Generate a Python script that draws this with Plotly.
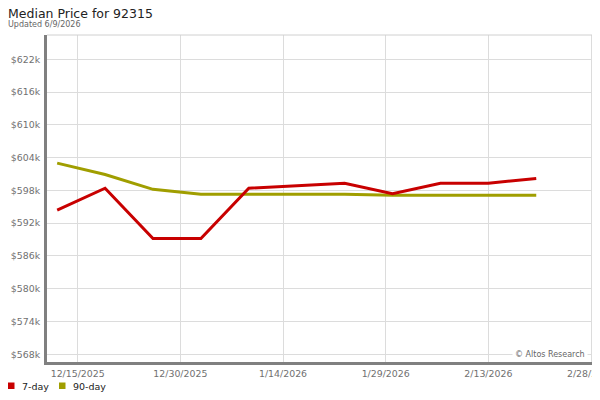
import plotly.graph_objects as go

dates = ["2025-12-12", "2025-12-19", "2025-12-26", "2026-01-02", "2026-01-09",
         "2026-01-16", "2026-01-23", "2026-01-30", "2026-02-06", "2026-02-13",
         "2026-02-20"]
price_7day = [594400, 598400, 589200, 589200, 598400, 598800, 599300, 597400,
              599300, 599300, 600200]
price_90day = [603000, 600900, 598200, 597300, 597300, 597300, 597300, 597100,
               597100, 597100, 597100]

x_tick_dates = ["2025-12-15", "2025-12-30", "2026-01-14", "2026-01-29",
                "2026-02-13", "2026-02-28"]
x_tick_labels = ["12/15/2025", "12/30/2025", "1/14/2026", "1/29/2026",
                 "2/13/2026", "2/28/2026"]
y_tick_vals = [568000, 574000, 580000, 586000, 592000, 598000, 604000,
               610000, 616000, 622000]
y_tick_labels = ["$568k", "$574k", "$580k", "$586k", "$592k", "$598k",
                 "$604k", "$610k", "$616k", "$622k"]

series_names = ["7-day", "90-day"]
RED = "#c80000"
OLIVE = "#a09e00"
FONT = "DejaVu Sans"

# page has an 8px body margin; work in page pixels and convert
OFF = 8
FW, FH = 600 - OFF, 400 - 2 * OFF
L, R, T, B = 47 - OFF, 593 - OFF, 35 - OFF, 362 - OFF
W, H = R - L, B - T


def px(xp):
    return (xp - OFF - L) / W


def py(yp):
    return (B - (yp - OFF)) / H


fig = go.Figure()
fig.add_trace(go.Scatter(x=dates, y=price_90day, mode="lines", name=series_names[1],
                         line=dict(color=OLIVE, width=3), showlegend=False))
fig.add_trace(go.Scatter(x=dates, y=price_7day, mode="lines", name=series_names[0],
                         line=dict(color=RED, width=3), showlegend=False))

fig.update_layout(
    width=FW, height=FH,
    margin=dict(l=L, r=FW - R, t=T, b=FH - B, pad=0, autoexpand=False),
    paper_bgcolor="white", plot_bgcolor="white",
    font=dict(family=FONT, size=9.4, color="#707070"),
    showlegend=False,
    xaxis=dict(
        type="date", automargin=False, ticklabeloverflow="allow",
        range=["2025-12-10 12:20", "2026-02-28 07:00"],
        tickvals=x_tick_dates, ticktext=x_tick_labels,
        showgrid=True, gridcolor="#dcdcdc", gridwidth=1,
        showline=True, linecolor="#808080", linewidth=3,
        ticks="outside", ticklen=1, tickcolor="rgba(0,0,0,0)", zeroline=False,
        tickfont=dict(family=FONT, size=9.4, color="#707070"),
    ),
    yaxis=dict(
        automargin=False,
        range=[566590, 626450],
        tickvals=y_tick_vals, ticktext=y_tick_labels,
        showgrid=True, gridcolor="#dcdcdc", gridwidth=1,
        showline=True, linecolor="#808080", linewidth=3,
        ticks="outside", ticklen=2, tickcolor="rgba(0,0,0,0)",
        zeroline=False,
        tickfont=dict(family=FONT, size=9.4, color="#707070"),
    ),
)

# light border on top and right
fig.add_shape(type="line", xref="paper", yref="paper", x0=0, x1=1, y0=1, y1=1,
              line=dict(color="#d0d0d0", width=1))
fig.add_shape(type="line", xref="paper", yref="paper", x0=1, x1=1, y0=0, y1=1,
              line=dict(color="#d0d0d0", width=1))

# titles
fig.add_annotation(text="Median Price for 92315", xref="paper", yref="paper",
                   x=px(6), y=py(13), xanchor="left", yanchor="middle",
                   showarrow=False, font=dict(family=FONT, size=12.5, color="#222222"))
fig.add_annotation(text="Updated 6/9/2026", xref="paper", yref="paper",
                   x=px(6), y=py(24.5), xanchor="left", yanchor="middle",
                   showarrow=False, font=dict(family=FONT, size=8, color="#666666"))

# watermark
fig.add_annotation(text="© Altos Research", xref="paper", yref="paper",
                   x=px(588), y=py(354), xanchor="right", yanchor="middle",
                   showarrow=False, bgcolor="white", borderpad=2,
                   font=dict(family=FONT, size=8, color="#666666"))

# legend (manual, bottom-left)
legend_items = [(series_names[0], RED, 8, 20), (series_names[1], OLIVE, 59, 71)]
for name, color, sx, tx in legend_items:
    fig.add_shape(type="rect", xref="paper", yref="paper",
                  x0=px(sx), x1=px(sx + 6.5), y0=py(382.5), y1=py(389),
                  fillcolor=color, line=dict(width=0))
    fig.add_annotation(text=name, xref="paper", yref="paper",
                       x=px(tx), y=py(386), xanchor="left", yanchor="middle",
                       showarrow=False, font=dict(family=FONT, size=9.5, color="#222222"))

fig.write_html("out.html")
